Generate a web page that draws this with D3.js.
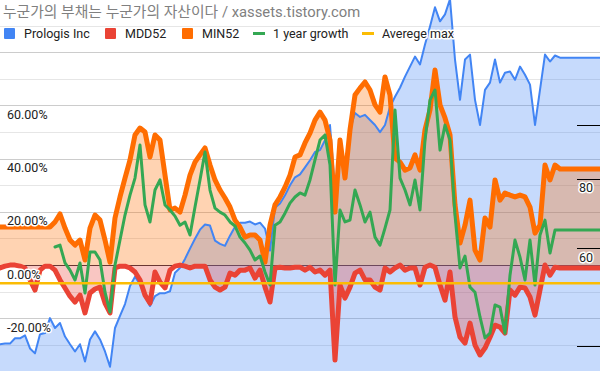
<!DOCTYPE html>
<html>
<head>
<meta charset="utf-8">
<script src="https://cdn.jsdelivr.net/npm/d3@7"></script>
<style>
  body { margin: 0; background: #fff; }
  svg { display: block; }
  text { font-family: Roboto, "Noto Sans CJK KR", sans-serif; }
</style>
</head>
<body>
<script>
// chart text
var title = "누군가의 부채는 누군가의 자산이다 / xassets.tistory.com";
var seriesNames = ["Prologis Inc", "MDD52", "MIN52", "1 year growth", "Averege max"];
var seriesColors = ["#4285F4", "#EA4335", "#FF6D01", "#34A853", "#FBBC04"];

// axes
var leftTicks = [60, 40, 20, 0, -20];
var rightTicks = [100, 80, 60, 40];
var rightTickLabels = ["", "80", "60", ""];

// Prologis price (right log axis), one value per time step
var prologis = [40.3, 40.4, 40.4, 41.3, 41.3, 41.8, 39.6, 38.8, 42.0, 42.2,
  44.9, 43.1, 44.0, 41.6, 40.3, 39.1, 40.3, 37.5, 41.1, 42.5,
  41.1, 39.1, 36.7, 43.1, 45.3, 47.6, 51.3, 53.3, 51.7, 49.2,
  47.2, 49.2, 49.8, 49.8, 50.2, 54.2, 55.3, 57.4, 59.9, 62.4,
  64.8, 66.2, 65.9, 61.9, 61.1, 60.6, 63.2, 65.6, 66.7, 66.7,
  67.0, 66.2, 66.7, 65.1, 59.4, 71.0, 72.2, 74.7, 77.9, 80.5,
  81.5, 83.9, 86.4, 89.4, 90.1, 93.9, 100, 76.2, 92.0, 80.2,
  97.9, 105.1, 103.4, 104.3, 102.1, 100, 97.1, 100, 107.8, 112.4,
  116.7, 122.2, 127.4, 132.8, 128.5, 139.6, 150.5, 162.9, 153.7, 158.2,
  168.5, 131.2, 111.0, 131.2, 133.9, 111.0, 100, 115.7, 119.2, 131.2,
  119.2, 124.2, 124.8, 120.6, 127.4, 123.2, 118.2, 100, 115.7, 133.9,
  130.1, 133.4, 132.2, 132.2, 132.2, 132.2, 132.2, 132.2, 132.2, 132.2, 132.2];

// MDD52 (%)
var mdd52 = [-1.1, -0.4, 0, 0, -0.4, -1.1, -5.6, -9.4, -1.9, -0.4,
  -0.4, -1.9, -5.6, -8.6, -11.7, -13.9, -11.3, -18.0, -10.5, -9.0,
  -8.3, -14.3, -18.0, -1.1, -0.4, -0.4, -1.1, -2.6, -5.6, -11.3,
  -14.3, -2.6, -6.4, -8.6, -1.9, -0.4, 0, -0.4, -1.1, -0.4,
  -0.4, -0.4, -5.6, -8.3, -9.4, -8.3, -3.0, -3.8, -1.9, -1.9,
  -1.1, -4.9, -1.9, -8.3, -13.9, -1.1, -0.8, -1.1, -1.1, -0.8,
  -0.8, -1.9, -0.8, -2.6, -1.9, -3.8, -1.9, -35.7, -7.5, -12.4,
  -8.3, -3.0, -1.9, -5.6, -5.6, -8.3, -9.4, -1.1, -2.6, -1.1,
  0, -1.9, -1.1, -1.1, -7.5, -0.8, 0, -0.8, -7.5, -13.2,
  -2.6, -19.5, -27.1, -29.3, -21.8, -30.1, -33.8, -31.2, -27.1, -22.6,
  -23.3, -25.6, -9.4, -11.3, -8.3, -8.6, -12.0, -18.8, -9.4, 0,
  -3.8, -0.8, -1.1, -1.1, -1.1, -1.1, -1.1, -1.1, -1.1, -1.1, -1.1];

// MIN52 (%)
var min52 = [14.3, 14.3, 14.3, 14.3, 14.3, 14.3, 14.3, 14.3, 14.3, 14.3,
  14.3, 16.2, 19.2, 13.9, 9.4, 7.5, 9.4, 1.9, 13.9, 18.8,
  16.9, 9.4, 1.1, 17.7, 25.6, 32.7, 39.5, 48.9, 51.5, 50.0,
  40.6, 48.9, 47.0, 33.8, 20.7, 21.4, 19.9, 26.3, 33.8, 38.7,
  41.4, 44.0, 37.6, 32.0, 28.2, 25.2, 21.8, 16.9, 14.3, 10.5,
  11.3, 11.3, 9.4, 1.1, 15.0, 22.6, 25.6, 29.3, 33.8, 40.6,
  41.4, 45.9, 49.6, 54.5, 57.5, 54.5, 47.0, 19.9, 47.0, 32.7,
  50.8, 63.9, 66.5, 68.8, 65.8, 60.2, 57.5, 70.7, 63.9, 40.2,
  38.7, 35.7, 36.5, 41.4, 35.7, 50.8, 58.3, 73.3, 60.2, 55.3,
  48.9, 22.6, 8.3, 15.0, 24.4, 5.6, 1.9, 17.7, 14.3, 32.0,
  24.4, 27.1, 26.3, 25.6, 26.3, 25.6, 21.8, 12.0, 15.0, 37.6,
  32.0, 37.6, 36.1, 36.1, 36.1, 36.1, 36.1, 36.1, 36.1, 36.1, 36.1];

// 1 year growth (%), no value for the first year
var growth = [null, null, null, null, null, null, null, null, null, null,
  null, 6.8, 7.5, 0.8, -1.9, -5.6, 0.8, -10.5, 4.9, 4.9,
  1.9, -10.2, -17.7, 0, 9.4, 18.8, 26.3, 32.7, 45.1, 22.6,
  16.2, 28.2, 32.0, 22.6, 20.7, 18.4, 15.0, 16.2, 11.3, 21.8,
  32.0, 42.5, 28.2, 21.4, 19.9, 18.8, 16.2, 14.7, 10.5, 8.3,
  5.6, 1.9, 3.4, -2.6, -7.5, 15.0, 16.2, 19.5, 23.3, 25.6,
  27.1, 26.3, 32.0, 39.5, 47.0, 48.9, 37.6, -7.5, 20.7, 16.2,
  16.9, 28.2, 22.6, 16.2, 19.9, 10.5, 7.5, 13.9, 20.7, 58.3,
  32.7, 28.2, 22.6, 32.0, 20.7, 47.0, 62.0, 65.8, 43.2, 52.6,
  47.0, 18.8, -1.1, 3.4, -8.3, -10.2, -19.5, -27.4, -25.6, -15.0,
  -15.8, -25.6, -3.8, 9.4, 3.0, -5.6, 9.4, -7.5, 11.3, 16.9,
  4.5, 13.2, 13.2, 13.2, 13.2, 13.2, 13.2, 13.2, 13.2, 13.2, 13.2];

// Averege max (%), constant
var averegeMax = -6.8;

var W = 600, H = 371;

var svg = d3.select("body").append("svg")
  .attr("width", W).attr("height", H);

var x = d3.scaleLinear().domain([0, prologis.length - 1]).range([0, W]);
var y = d3.scaleLinear().domain([-40, 100]).range([371.5, -1]);
var y2 = d3.scaleLog().domain([40, 100]).range([346, 125]);

// gridlines
var grid = d3.range(-40, 101, 10);
svg.append("g").selectAll("line").data(grid).join("line")
  .attr("x1", 0).attr("x2", W)
  .attr("y1", function (d) { return Math.round(y(d)) + 0.5; })
  .attr("y2", function (d) { return Math.round(y(d)) + 0.5; })
  .attr("stroke", function (d) { return d % 20 === 0 ? "#cccccc" : "#e6e6e6"; })
  .attr("stroke-width", 1);

// baseline
svg.append("line")
  .attr("x1", 0).attr("x2", W)
  .attr("y1", Math.round(y(0)) + 0.5).attr("y2", Math.round(y(0)) + 0.5)
  .attr("stroke", "#333").attr("stroke-width", 1);

svg.append("clipPath").attr("id", "plot")
  .append("rect").attr("x", 0).attr("y", 0).attr("width", W).attr("height", H);

var plot = svg.append("g").attr("clip-path", "url(#plot)");

function idx(d, i) { return x(i); }

// areas
plot.append("path").datum(prologis)
  .attr("fill", seriesColors[0]).attr("fill-opacity", 0.3)
  .attr("d", d3.area().x(idx).y0(H).y1(function (d) { return y2(d); }));
plot.append("path").datum(mdd52)
  .attr("fill", seriesColors[1]).attr("fill-opacity", 0.3)
  .attr("d", d3.area().x(idx).y0(y(0)).y1(function (d) { return y(d); }));
plot.append("path").datum(min52)
  .attr("fill", seriesColors[2]).attr("fill-opacity", 0.3)
  .attr("d", d3.area().x(idx).y0(y(0)).y1(function (d) { return y(d); }));

// lines
function drawLine(data, scale, color, width) {
  plot.append("path").datum(data)
    .attr("fill", "none").attr("stroke", color).attr("stroke-width", width)
    .attr("stroke-linejoin", "round").attr("stroke-linecap", "round")
    .attr("d", d3.line().defined(function (d) { return d !== null; })
      .x(idx).y(function (d) { return scale(d); }));
}
drawLine(prologis, y2, seriesColors[0], 2);
drawLine(mdd52, y, seriesColors[1], 5);
drawLine(min52, y, seriesColors[2], 5);
drawLine(growth, y, seriesColors[3], 3);

plot.append("line")
  .attr("x1", x(0)).attr("x2", x(prologis.length - 1))
  .attr("y1", y(averegeMax)).attr("y2", y(averegeMax))
  .attr("stroke", seriesColors[4]).attr("stroke-width", 2.5);

// left axis labels
function halo(sel) {
  sel.attr("paint-order", "stroke").attr("stroke", "#fff")
    .attr("stroke-width", 3).attr("stroke-linejoin", "round");
}
svg.append("g").selectAll("text").data(leftTicks).join("text")
  .attr("x", 7).attr("y", function (d) { return y(d) + 13.5; })
  .attr("font-size", 12.5).attr("fill", "#222")
  .text(function (d) { return d.toFixed(2) + "%"; })
  .call(halo);

// right axis (log)
svg.append("g").selectAll("line").data(rightTicks).join("line")
  .attr("x1", 577).attr("x2", W)
  .attr("y1", function (d) { return Math.round(y2(d)) + 0.5; })
  .attr("y2", function (d) { return Math.round(y2(d)) + 0.5; })
  .attr("stroke", "#000").attr("stroke-width", 1);
svg.append("g").selectAll("text").data(rightTicks).join("text")
  .attr("x", 579).attr("y", function (d) { return y2(d) + 13.5; })
  .attr("font-size", 12.5).attr("fill", "#222")
  .text(function (d, i) { return rightTickLabels[i]; })
  .call(halo);

// title
svg.append("text").attr("x", 3).attr("y", 17)
  .attr("font-size", 14.8).attr("fill", "#808080")
  .text(title);

// legend
var legendX = [4, 105, 182, 253, 362];
var legendKind = ["box", "box", "box", "line", "line"];
var lg = svg.append("g");
seriesNames.forEach(function (name, i) {
  if (legendKind[i] === "box") {
    lg.append("rect").attr("x", legendX[i]).attr("y", 28)
      .attr("width", 11).attr("height", 11).attr("rx", 1)
      .attr("fill", seriesColors[i]);
  } else {
    lg.append("rect").attr("x", legendX[i]).attr("y", 32)
      .attr("width", 12).attr("height", 3)
      .attr("fill", seriesColors[i]);
  }
  lg.append("text").attr("x", legendX[i] + 20).attr("y", 38)
    .attr("font-size", 12.5).attr("fill", "#222")
    .text(name).call(halo);
});
</script>
</body>
</html>
